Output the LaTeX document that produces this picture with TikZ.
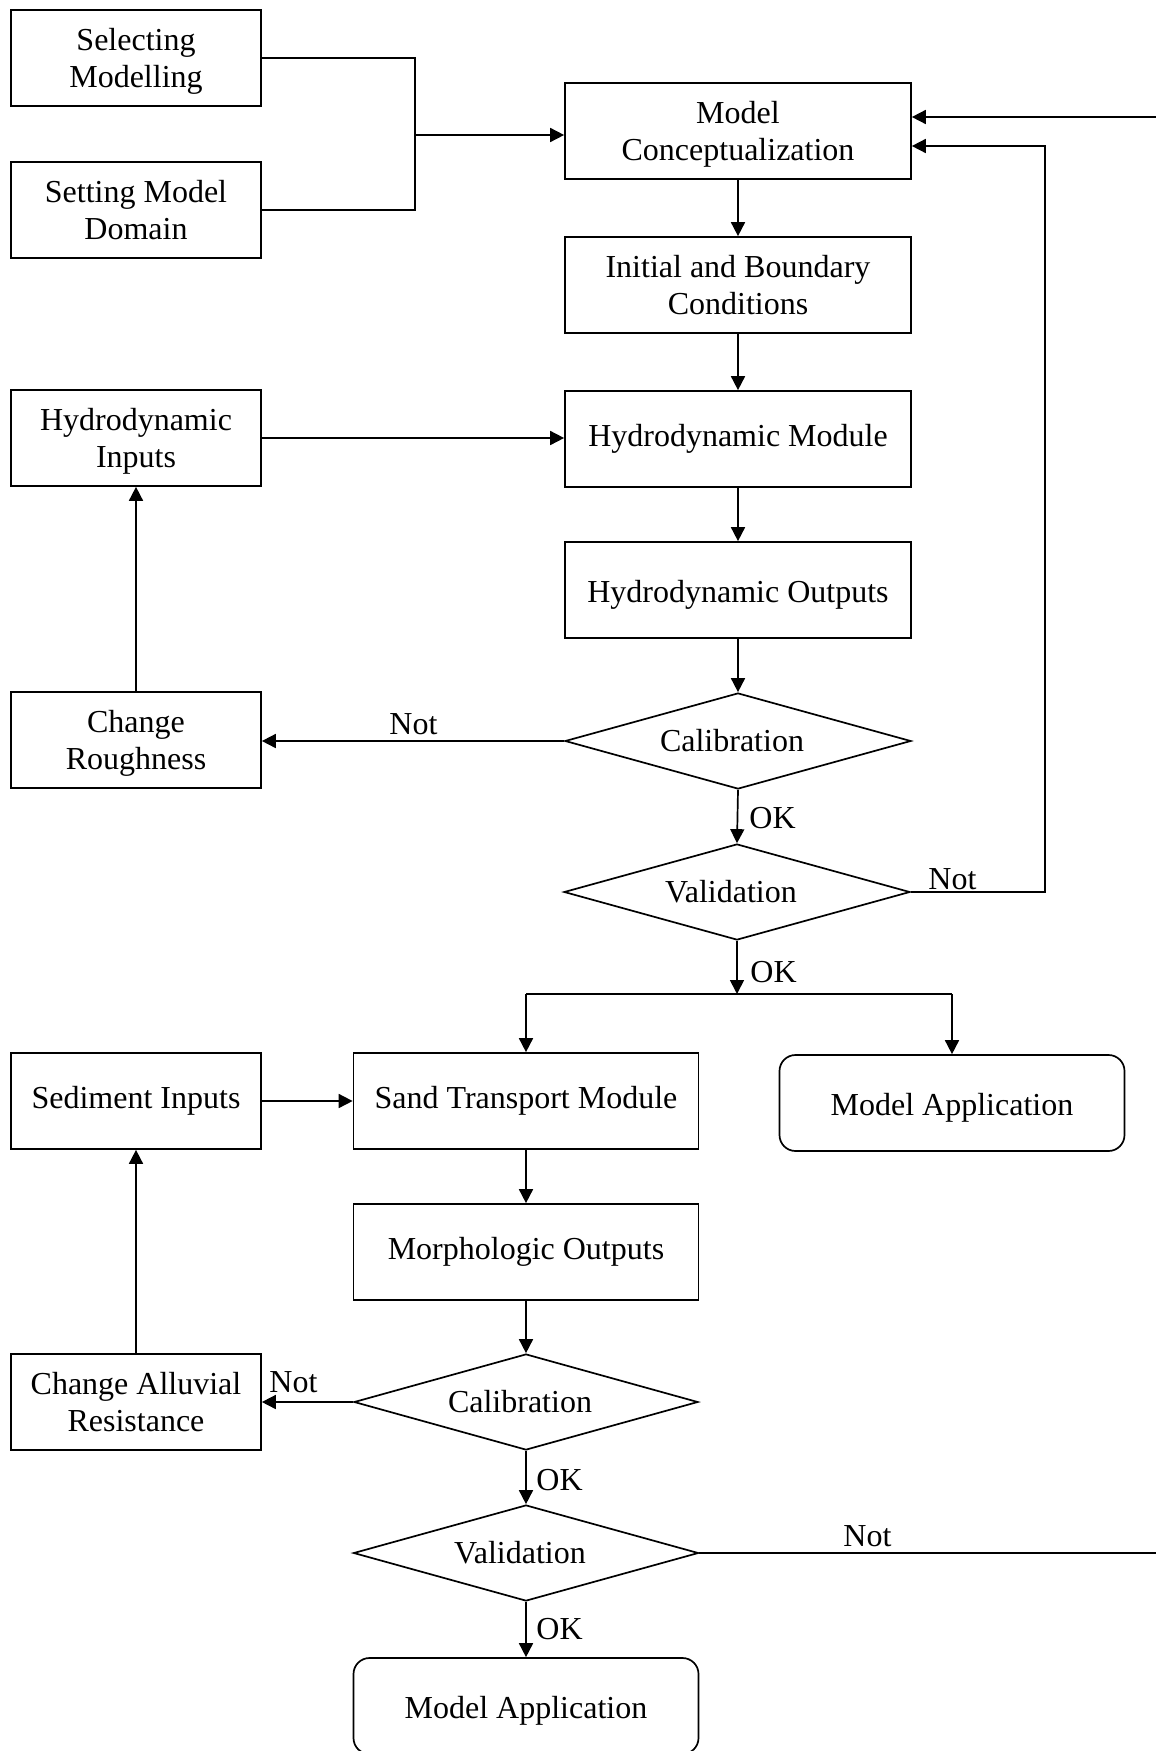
\documentclass[tikz,border=0pt]{standalone}
\usepackage{fontspec}
\setmainfont{Liberation Serif}
\usetikzlibrary{arrows.meta,shapes.geometric}
% struts that give two-line labels an even vertical balance
\newcommand{\firstline}{\rule{0pt}{14.5pt}}
\newcommand{\lastline}{\rule[-4pt]{0pt}{4pt}}
% end-box label sits slightly low in its box
\newcommand{\lowlabel}[1]{\rule{0pt}{16pt}#1}
\begin{document}
\begin{tikzpicture}[x=0.5pt,y=-0.5pt,
  font=\fontsize{16pt}{18.5pt}\selectfont,
  every node/.style={align=center},
  line/.style={line width=0.85pt},
  arr/.style={line, -{Triangle[length=7pt,width=7pt]}},
  box/.style={draw, line width=0.85pt, minimum height=48pt, inner sep=2pt},
  sidebox/.style={box, minimum width=125pt},
  mainbox/.style={box, minimum width=173pt},
  lowbox/.style={box, minimum width=172.5pt},
  endbox/.style={lowbox, rounded corners=8pt},
  decision/.style={draw, diamond, line width=0.85pt, aspect=3.6, inner sep=0pt,
                   minimum width=173pt, minimum height=48pt,
                   execute at begin node={\kern-3pt}, execute at end node={\kern3pt}},
  tag/.style={anchor=base west, inner sep=0pt}
]
\clip (0,0) rectangle (1156,1751);

% upper part: hydrodynamic model
\node[sidebox] (sel) at (136,58) {\firstline Selecting\\Modelling\lastline};
\node[sidebox] (dom) at (136,210) {\firstline Setting Model\\Domain\lastline};
\node[mainbox] (concept) at (738,131) {\firstline Model\\Conceptualization\lastline};
\node[mainbox] (ibc) at (738,285) {\firstline Initial and Boundary\\Conditions\lastline};
\node[mainbox] (hydmod) at (738,439) {Hydrodynamic Module};
\node[mainbox] (hydout) at (738,590) {\lowlabel{Hydrodynamic Outputs}};
\node[decision] (cal1) at (738,741) {Calibration};
\node[decision] (val1) at (737,892) {Validation};
\node[sidebox] (hydin) at (136,438) {\firstline Hydrodynamic\\Inputs\lastline};
\node[sidebox] (rough) at (136,740) {\firstline Change\\Roughness\lastline};

% lower part: sand transport model
\node[lowbox] (sand) at (526,1101) {Sand Transport Module};
\node[endbox] (app1) at (952,1103) {\lowlabel{Model Application}};
\node[sidebox] (sedin) at (136,1101) {Sediment Inputs};
\node[lowbox] (morph) at (526,1252) {Morphologic Outputs};
\node[decision, minimum width=172pt] (cal2) at (526,1402) {Calibration};
\node[sidebox] (alluv) at (136,1402) {\firstline Change Alluvial\\Resistance\lastline};
\node[decision, minimum width=172.5pt] (val2) at (526,1553) {Validation};
\node[endbox] (app2) at (526,1706) {\lowlabel{Model Application}};

% helper points
\coordinate (join) at (415,135);
\coordinate (loopTop) at (1045,146);
\coordinate (edgeTop) at (1156,117);
\coordinate (split) at (737,994);
\coordinate (edgeBot) at (1156,1553);

% connectors, upper part
\draw[line] (sel.east) -| (join);
\draw[line] (dom.east) -| (join);
\draw[arr] (join) -- (concept.west |- join);
\draw[arr] (edgeTop) -- (concept.east |- edgeTop);
\draw[arr] (concept.south) -- (ibc.north);
\draw[arr] (ibc.south) -- (hydmod.north);
\draw[arr] (hydin.east) -- (hydmod.west |- hydin.east);
\draw[arr] (hydmod.south) -- (hydout.north);
\draw[arr] (hydout.south) -- (cal1.north);
\draw[arr] (cal1.west) -- (rough.east |- cal1.west);
\draw[arr] (rough.north) -- (hydin.south);
\draw[arr] (cal1.south) -- (val1.north);
\draw[arr] (val1.east) -| (loopTop) -- (concept.east |- loopTop);
\draw[arr] (val1.south) -- (split);
\draw[line] (sand.north |- split) -- (app1.north |- split);
\draw[arr] (sand.north |- split) -- (sand.north);
\draw[arr] (app1.north |- split) -- (app1.north);

% connectors, lower part
\draw[arr] (sedin.east) -- (sand.west |- sedin.east);
\draw[arr] (sand.south) -- (morph.north);
\draw[arr] (morph.south) -- (cal2.north);
\draw[arr] (cal2.west) -- (alluv.east |- cal2.west);
\draw[arr] (alluv.north) -- (sedin.south);
\draw[arr] (cal2.south) -- (val2.north);
\draw[line] (val2.east) -- (edgeBot);
\draw[arr] (val2.south) -- (app2.north);

% decision labels
\node[tag] (no1) at (389,734) {Not};
\node[tag] (ok1) at (749,828) {OK};
\node[tag] (no2) at (928,889) {Not};
\node[tag] (ok2) at (750,982) {OK};
\node[tag] (no3) at (269,1392) {Not};
\node[tag] (ok3) at (536,1490) {OK};
\node[tag] (no4) at (843,1546) {Not};
\node[tag] (ok4) at (536,1639) {OK};
\end{tikzpicture}
\end{document}
